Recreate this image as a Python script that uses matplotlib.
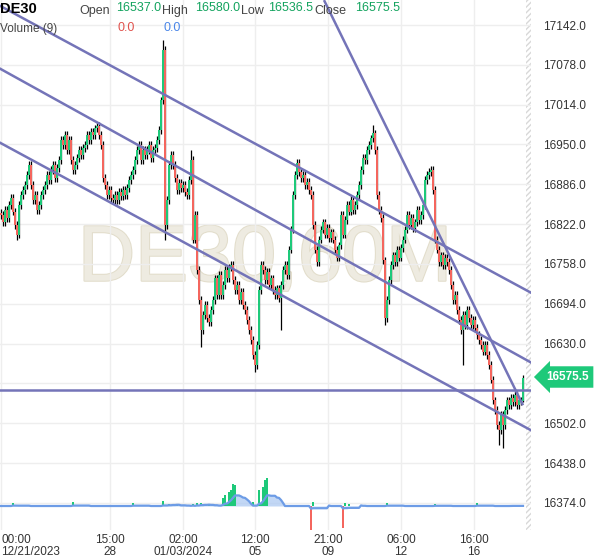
import numpy as np
import pandas as pd
import matplotlib
matplotlib.use('Agg')
import matplotlib.pyplot as plt
import matplotlib.patheffects as pe
from matplotlib.patches import Rectangle

plt.rcParams['font.family'] = ['Liberation Sans', 'DejaVu Sans']

# DE30 hourly closes (one value per candle)
closes = [
    16837, 16825, 16845, 16832, 16853, 16864, 16842, 16821, 16805, 16853,
    16869, 16877, 16885, 16901, 16917, 16885, 16861, 16869, 16845, 16853,
    16869, 16877, 16885, 16901, 16893, 16909, 16917, 16896, 16912, 16925,
    16957, 16949, 16965, 16941, 16957, 16925, 16909, 16917, 16928, 16941,
    16933, 16944, 16949, 16965, 16957, 16970, 16965, 16976, 16980, 16965,
    16949, 16896, 16885, 16869, 16877, 16864, 16861, 16869, 16861, 16874,
    16867, 16877, 16869, 16880, 16893, 16901, 16909, 16925, 16941, 16949,
    16925, 16941, 16933, 16941, 16949, 16928, 16941, 16944, 16957, 16973,
    17021, 17102, 16821, 16861, 16917, 16933, 16917, 16896, 16877, 16888,
    16880, 16885, 16874, 16869, 16893, 16925, 16797, 16837, 16748, 16700,
    16652, 16676, 16692, 16671, 16665, 16684, 16700, 16735, 16708, 16740,
    16708, 16724, 16748, 16735, 16752, 16756, 16732, 16716, 16724, 16700,
    16713, 16692, 16684, 16668, 16652, 16636, 16612, 16596, 16628, 16716,
    16756, 16748, 16732, 16745, 16724, 16735, 16716, 16708, 16719, 16703,
    16724, 16748, 16756, 16740, 16781, 16813, 16869, 16901, 16920, 16906,
    16896, 16901, 16885, 16890, 16877, 16869, 16821, 16781, 16761, 16797,
    16813, 16825, 16805, 16816, 16800, 16809, 16797, 16781, 16768, 16788,
    16837, 16805, 16829, 16853, 16842, 16861, 16845, 16853, 16869, 16885,
    16909, 16928, 16925, 16941, 16949, 16960, 16968, 16941, 16869, 16845,
    16832, 16764, 16671, 16700, 16732, 16756, 16772, 16761, 16781, 16768,
    16784, 16797, 16813, 16837, 16821, 16832, 16816, 16825, 16845, 16829,
    16837, 16853, 16893, 16901, 16906, 16909, 16877, 16797, 16781, 16761,
    16772, 16756, 16768, 16761, 16748, 16724, 16700, 16708, 16684, 16668,
    16652, 16676, 16660, 16684, 16671, 16660, 16668, 16655, 16644, 16636,
    16628, 16617, 16628, 16612, 16596, 16572, 16539, 16523, 16499, 16491,
    16515, 16499, 16523, 16539, 16531, 16543, 16536, 16548, 16531, 16539,
    16537, 16575.5,
]
first_open = 16840.0

# wicks that reach further than usual
high_spikes = {81: 17118, 95: 16941, 186: 16981, 261: 16580.0}
low_spikes = {8: 16797, 82: 16797, 100: 16625, 127: 16584, 140: 16652,
              192: 16660, 231: 16596, 249: 16467, 251: 16462, 261: 16536.5}

# volume (only the candles where a bar is visible)
vol_idx = [6, 36, 66, 81, 84, 86, 88, 96, 98, 100, 102, 104,
           111, 112, 113, 114, 115, 116, 117, 126, 129, 130, 131, 132, 133,
           155, 156, 171, 172, 174, 193, 217, 238, 255]
vol_val = [300, 400, 300, 500, 200, 200, 200, 200, 300, 300, 200, 200,
           800, 1100, 300, 1400, 1600, 2200, 2100, 400, 1600, 300, 1900, 2600, 2800,
           -2400, 400, -2200, 300, 200, 300, 200, 300, 100]

price_ticks = [17142, 17078, 17014, 16950, 16886, 16822, 16758, 16694,
               16630, 16566, 16502, 16438, 16374]
time_ticks = [0, 54.5, 91, 127, 163.5, 200, 236.5]
time_labels = ['00:00\n12/21/2023', '15:00\n28', '02:00\n01/03/2024', '12:00\n05',
               '21:00\n09', '06:00\n12', '16:00\n16']

# drawn trend lines: (index, price) anchor pairs
channel_lines = [((0, 17172), (262, 16717)),
                 ((0, 17071), (262, 16605)),
                 ((0, 16952), (262, 16496))]
steep_line = ((161.5, 17182), (261, 16531))
support_level = 16555.5

header_open, header_high, header_low, header_close = 16537.0, 16580.0, 16536.5, 16575.5

# build the OHLC frame
df = pd.DataFrame({'close': closes})
df['open'] = df['close'].shift(1).fillna(first_open)
df['high'] = df[['open', 'close']].max(axis=1) + 6
df['low'] = df[['open', 'close']].min(axis=1) - 6
for i, v in high_spikes.items():
    df.loc[i, 'high'] = v
for i, v in low_spikes.items():
    df.loc[i, 'low'] = v

up = df['close'] >= df['open']
green, red = '#1ec97a', '#f4665e'
colors = np.where(up, green, red)

vol = np.zeros(len(df))
vol[vol_idx] = vol_val
vol_ma = pd.Series(vol).rolling(9, min_periods=1).mean()
vol_colors = [green if v > 0 else red for v in vol_val]

fig = plt.figure(figsize=(6, 5.58), dpi=100)
ax = fig.add_axes([0, 28 / 558, 531 / 600, 530 / 558])
ax.set_xlim(-0.5, 265)
ax.set_ylim(16330.5, 17182.2)

# grid + axes text
ax.set_yticks(price_ticks)
ax.set_yticklabels(['' if p == 16566 else f'{p:.1f}' for p in price_ticks])
ax.yaxis.tick_right()
ax.set_xticks(time_ticks)
ax.set_xticklabels(time_labels, linespacing=0.95)
ax.get_xticklabels()[0].set_ha('left')
ax.tick_params(length=0, labelsize=8.5, colors='#333333')
ax.tick_params(axis='y', pad=9)
ax.tick_params(axis='x', pad=3)
ax.grid(color='#eeeeee', lw=1)
for s in ax.spines.values():
    s.set_visible(False)

# hatched strip at the right edge
ax.add_patch(Rectangle((262.7, 16330.5), 2.3, 860, facecolor='white',
                       edgecolor='#d8d8d8', hatch='//////', lw=0, zorder=1))

# watermark
ax.text(132, 16764, 'DE30,60M', fontsize=57, ha='center', va='center',
        color='#eeebe1', zorder=0.5,
        path_effects=[pe.withStroke(linewidth=1.5, foreground='#e2ddcb')])

# candles
ax.vlines(df.index, df['low'], df['high'], color='black', lw=0.9, zorder=3)
ax.bar(df.index, df['close'] - df['open'], bottom=df['open'], width=0.85,
       color=colors, zorder=4)

# trend lines
line_col = '#7474b8'
for p1, p2 in channel_lines:
    ax.axline(p1, p2, color=line_col, lw=1.8, zorder=5)
ax.plot([steep_line[0][0], steep_line[1][0]], [steep_line[0][1], steep_line[1][1]],
        color=line_col, lw=1.8, zorder=5, solid_capstyle='butt')
ax.axhline(support_level, color=line_col, lw=1.8, zorder=5)

# volume panel
vax = fig.add_axes([0, 28 / 558, 531 / 600, 60 / 558])
vax.set_xlim(-0.5, 265)
vax.set_ylim(-2400, 3600)
vax.axis('off')
vax.patch.set_visible(False)
vax.fill_between(df.index, vol_ma, 0, color='#b3cdf3', alpha=0.8, lw=0, zorder=1)
vax.bar(vol_idx, vol_val, width=0.7, color=vol_colors, zorder=2)
vax.plot(df.index, vol_ma, color='#6d9ce6', lw=1.6, zorder=3)

# header
def px(x, y):
    return x / 600, 1 - y / 558

fig.text(*px(0, 9), 'DE30', fontsize=10.5, fontweight='bold', va='center')
items = [(79, 'Open', '#444444', 11), (116, f'{header_open:.1f}', '#13a35e', 8),
         (162, 'High', '#444444', 11), (195, f'{header_high:.1f}', '#13a35e', 8),
         (241, 'Low', '#444444', 11), (268, f'{header_low:.1f}', '#13a35e', 8),
         (314, 'Close', '#444444', 11), (355, f'{header_close:.1f}', '#13a35e', 8)]
for x, t, c, y in items:
    fig.text(*px(x, y), t, fontsize=9, color=c, va='center')
fig.text(*px(0, 29), 'Volume (9)', fontsize=8.5, color='#444444', va='center')
fig.text(*px(118, 28), '0.0', fontsize=9, color='#e0524d', va='center')
fig.text(*px(163, 28), '0.0', fontsize=9, color='#4a86e8', va='center')

# last price tag
fig.text(*px(546, 377), f'{header_close:.1f}', fontsize=8.5, fontweight='bold',
         color='white', va='center',
         bbox=dict(boxstyle='larrow,pad=0.4', fc=green, ec='none'))

fig.savefig('out.png', dpi=100)
